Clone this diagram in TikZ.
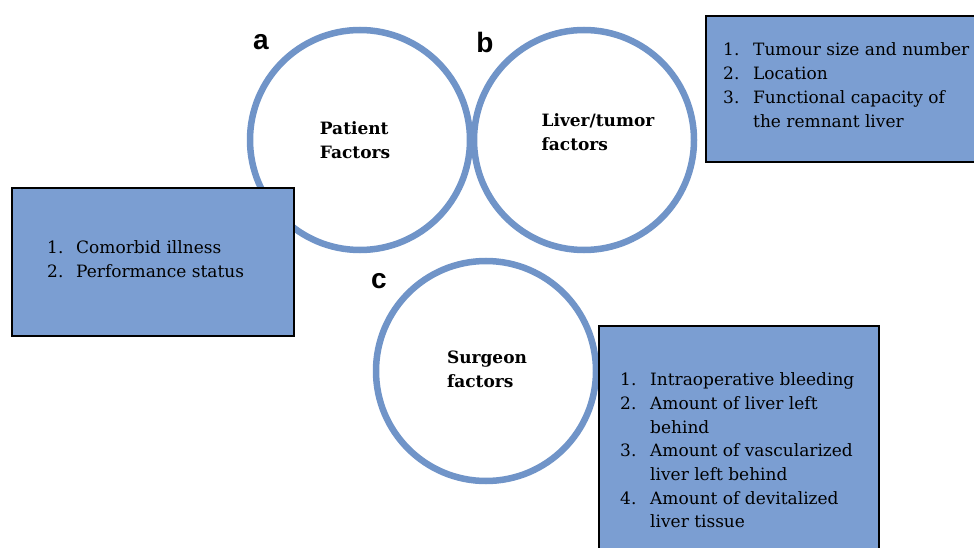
\documentclass[tikz,border=0pt]{standalone}
\usepackage{fontspec}
\setmainfont{DejaVu Serif}
\newfontfamily\tagfont{Liberation Sans}
\usetikzlibrary{positioning}
\definecolor{ringblue}{RGB}{112,148,200}
\definecolor{boxblue}{RGB}{123,158,210}

\begin{document}
\begin{tikzpicture}[
    x=1pt, y=-1pt,
    factor/.style={circle, draw=ringblue, line width=6.5pt, fill=white,
                   minimum size=220pt, inner sep=0pt},
    factortext/.style={align=left, inner sep=0pt, font=\fontsize{17}{24}\selectfont\bfseries},
    infobox/.style={rectangle, draw=black, line width=1.8pt, fill=boxblue,
                    anchor=north west, inner sep=0pt},
    itemlist/.style={anchor=north west, inner sep=0pt, font=\fontsize{17}{24}\selectfont},
    tag/.style={inner sep=0pt, font=\tagfont\fontsize{28}{30}\selectfont\bfseries}
]
\useasboundingbox (0,0) rectangle (974,548);
\clip (0,0) rectangle (974,548);

% --- Circles ---
\node[factor] (patient) at (360,140) {};
\node[factor] (liver) at (584,140) {};
\node[factor] (surgeon) at (486,371) {};

\node[factortext] (patient_t) at (355,140) {Patient\\Factors};
\node[factortext] (liver_t) at (598,132) {Liver/tumor\\factors};
\node[factortext] (surgeon_t) at (487,369) {Surgeon\\factors};

% --- Letters ---
\node[tag] (tag_a) at (261,42) {a};
\node[tag] (tag_b) at (485,42) {b};
\node[tag] (tag_c) at (379,281) {c};

% --- Boxes ---
\node[infobox, minimum width=282pt, minimum height=148pt] (box_patient) at (11,187) {};
\node[infobox, minimum width=290pt, minimum height=146pt] (box_liver) at (705,15) {};
\node[infobox, minimum width=280pt, minimum height=240pt] (box_surgeon) at (598,325) {};

\node[itemlist] (list_patient) at (47,236) {%
  \begin{tabular}{@{}p{29pt}@{}l@{}}
  1. & Comorbid illness\\
  2. & Performance status
  \end{tabular}};
\node[itemlist] (list_liver) at (723,39) {%
  \begin{tabular}{@{}p{30pt}@{}l@{}}
  1. & Tumour size and number\\
  2. & Location\\
  3. & Functional capacity of\\
     & the remnant liver
  \end{tabular}};
\node[itemlist, font=\fontsize{17}{23.7}\selectfont] (list_surgeon) at (620,369) {%
  \begin{tabular}{@{}p{30pt}@{}l@{}}
  1. & Intraoperative bleeding\\
  2. & Amount of liver left\\
     & behind\\
  3. & Amount of vascularized\\
     & liver left behind\\
  4. & Amount of devitalized\\
     & liver tissue
  \end{tabular}};

\end{tikzpicture}
\end{document}
